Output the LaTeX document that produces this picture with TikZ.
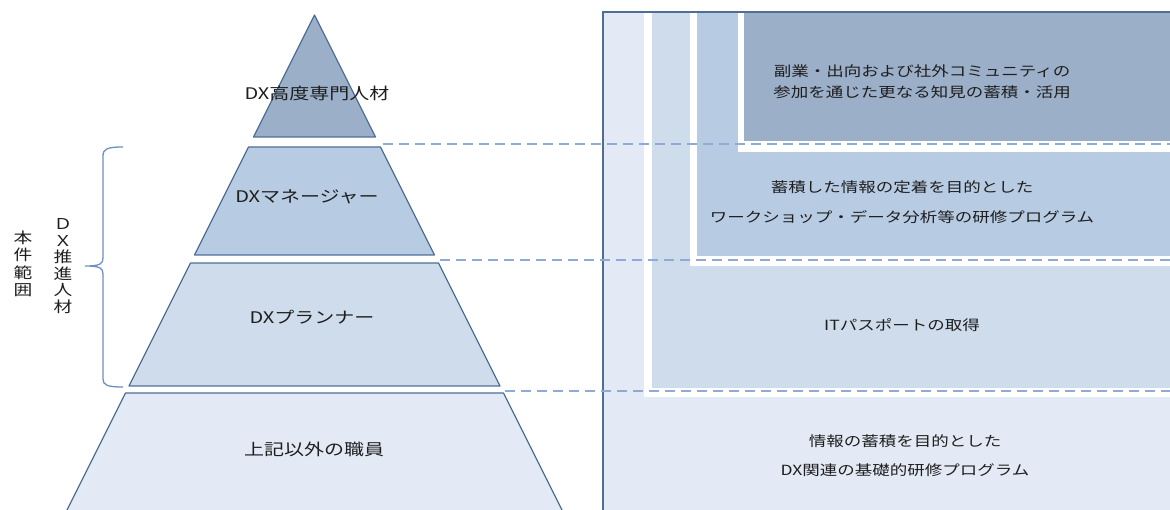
\documentclass[tikz,border=0pt]{standalone}
\usepackage{fontspec}
\setmainfont{Noto Sans CJK JP}
\usepackage{graphicx}
\newcommand{\hs}[1]{\scalebox{1.25}[1]{#1}}
\definecolor{bandline}{HTML}{4E6E96}
\definecolor{cA}{HTML}{9BAFC8}
\definecolor{cB}{HTML}{B7CBE3}
\definecolor{cC}{HTML}{CFDCEC}
\definecolor{cD}{HTML}{E4EAF5}
\definecolor{dashc}{HTML}{8FAAD6}
\definecolor{bracec}{HTML}{6F8FC0}
\definecolor{txt}{HTML}{1E1E1E}
\begin{document}
\begin{tikzpicture}[x=1pt,y=-1pt,
  band/.style={draw=bandline, line width=1.2pt, line join=round},
  dashline/.style={draw=dashc, line width=1.5pt, dash pattern=on 10pt off 6pt},
  plbl/.style={text=txt, font=\fontsize{16}{18}\selectfont, inner sep=0pt},
  rlbl/.style={text=txt, inner sep=0pt, align=center},
  vlbl/.style={text=txt, inner sep=0pt, align=center}]
\useasboundingbox (0,0) rectangle (1170,510);
\clip (0,0) rectangle (1170,510);
% ---------- right panel ----------
\fill[cD] (603,12) rectangle (1180,520);
\fill[white] (644,13) rectangle (1180,397);
\fill[cC] (652,13) rectangle (1180,388);
\fill[white] (690,13) rectangle (1180,266);
\fill[cB] (697,13) rectangle (1180,256);
\fill[white] (738,13) rectangle (1180,152);
\fill[cA] (744,13) rectangle (1180,141);
\draw[bandline, line width=1.5pt] (603,520) -- (603,12) -- (1180,12);
% ---------- pyramid ----------
\path[band, fill=cA] (314.5,15) -- (375.5,137) -- (253.5,137) -- cycle;
\path[band, fill=cB] (248.5,147) -- (380.5,147) -- (434.5,255) -- (194.5,255) -- cycle;
\path[band, fill=cC] (190.5,263) -- (438.5,263) -- (500,386) -- (129,386) -- cycle;
\path[band, fill=cD] (125.5,393) -- (503.5,393) -- (564.5,515) -- (64.5,515) -- cycle;
% ---------- dashed guides ----------
\coordinate (g1) at (383,144); \coordinate (e1) at (1172,144);
\coordinate (g2) at (440,260); \coordinate (e2) at (1172,260);
\coordinate (g3) at (505,391); \coordinate (e3) at (1172,391);
\draw[dashline] (g1) -- (e1);
\draw[dashline] (g2) -- (e2);
\draw[dashline] (g3) -- (e3);
% ---------- brace ----------
\draw[bracec, line width=1.3pt]
  (123,147) .. controls (107,147) and (103,149) .. (103,156) -- (103,258)
  .. controls (103,264) and (100,266) .. (85,266)
  .. controls (100,266) and (103,268) .. (103,274) -- (103,379)
  .. controls (103,385) and (107,387) .. (123,387);
% ---------- pyramid labels ----------
\node[plbl] (t1) at (317,93) {\hs{DX高度専門人材}};
\node[plbl] (t2) at (307,197) {\hs{DXマネージャー}};
\node[plbl] (t3) at (312,317) {\hs{DXプランナー}};
\node[plbl] (t4) at (314,449) {\hs{上記以外の職員}};
% ---------- right labels ----------
\node[rlbl, font=\fontsize{14}{21}\selectfont] (r1) at (922,81.5)
  {\hs{副業・出向および社外コミュニティの}\\\hs{参加を通じた更なる知見の蓄積・活用}};
\node[rlbl, font=\fontsize{14}{30}\selectfont] (r2) at (902,202)
  {\hs{蓄積した情報の定着を目的とした}\\\hs{ワークショップ・データ分析等の研修プログラム}};
\node[rlbl, font=\fontsize{14}{21}\selectfont] (r3) at (902,325) {\hs{ITパスポートの取得}};
\node[rlbl, font=\fontsize{14}{29}\selectfont] (r4) at (905,455.5)
  {\hs{情報の蓄積を目的とした}\\\hs{DX関連の基礎的研修プログラム}};
% ---------- vertical labels ----------
\node[vlbl, font=\fontsize{15}{16.5}\selectfont] (v1) at (63,266)
  {\hs{Ｄ}\\\hs{Ｘ}\\\hs{推}\\\hs{進}\\\hs{人}\\\hs{材}};
\node[vlbl, font=\fontsize{15}{17.5}\selectfont] (v2) at (23,264)
  {\hs{本}\\\hs{件}\\\hs{範}\\\hs{囲}};
\end{tikzpicture}
\end{document}
